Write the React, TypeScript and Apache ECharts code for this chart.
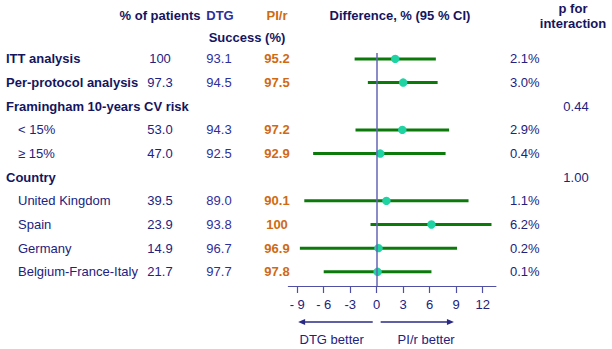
import { useEffect, useRef } from "react";
import * as echarts from "echarts";

const rowLabels = [
  "ITT analysis",
  "Per-protocol analysis",
  "Framingham 10-years CV risk",
  "< 15%",
  "≥ 15%",
  "Country",
  "United Kingdom",
  "Spain",
  "Germany",
  "Belgium-France-Italy",
];
const rowIsHeader = [true, true, true, false, false, true, false, false, false, false];
const pctPatients = ["100", "97.3", "", "53.0", "47.0", "", "39.5", "23.9", "14.9", "21.7"];
const dtgSuccess = ["93.1", "94.5", "", "94.3", "92.5", "", "89.0", "93.8", "96.7", "97.7"];
const pirSuccess = ["95.2", "97.5", "", "97.2", "92.9", "", "90.1", "100", "96.9", "97.8"];
const diffEst: (number | null)[] = [2.1, 3.0, null, 2.9, 0.4, null, 1.1, 6.2, 0.2, 0.1];
const ciLow: (number | null)[] = [-2.5, -1.0, null, -2.4, -7.2, null, -8.2, -0.7, -8.7, -6.0];
const ciHigh: (number | null)[] = [6.7, 6.9, null, 8.2, 7.8, null, 10.4, 13.0, 9.1, 6.2];
const pInteraction = ["", "", "0.44", "", "", "1.00", "", "", "", ""];
const xTicks = [-9, -6, -3, 0, 3, 6, 9, 12];
const xTickLabels = ["- 9", "- 6", "-3", "0", "3", "6", "9", "12"];

const FONT = '"Liberation Sans", Arial, sans-serif';
const NAVY = "#15155e";
const NAVY2 = "#22227e";
const BLUE = "#2e2e9c";
const ORANGE = "#d06a12";

function txt(text: string, x: number, y: number, opts: any = {}) {
  const align = opts.align || "left";
  return {
    type: "text",
    x,
    y,
    silent: true,
    style: {
      text,
      fill: opts.color || NAVY,
      fontSize: opts.size || 13,
      fontWeight: opts.bold ? "bold" : "normal",
      fontFamily: FONT,
      align,
      textAlign: align,
      verticalAlign: "middle",
      textVerticalAlign: "middle",
    },
  };
}

export default function App() {
  const ref = useRef<HTMLDivElement>(null);
  useEffect(() => {
    const chart = echarts.init(ref.current!, null, { renderer: "svg" });
    const rows = rowLabels.map((_, i) => i);
    const ciData = rows
      .filter((i) => diffEst[i] != null)
      .map((i) => [diffEst[i], i, ciLow[i], ciHigh[i]]);
    const tableData = rows.map((i) => [0, i]);

    chart.setOption({
      animation: false,
      grid: { left: 288.4, right: 116.1, top: 53, bottom: 63, containLabel: false },
      xAxis: {
        type: "value",
        min: -10,
        max: 13.5,
        axisLine: { show: true, onZero: false, lineStyle: { color: "#4f4fa6", width: 1.2 } },
        axisTick: { show: true, customValues: xTicks, length: 7, lineStyle: { color: "#4f4fa6", width: 1.2 } },
        axisLabel: {
          customValues: xTicks,
          formatter: (v: number) => xTickLabels[xTicks.indexOf(v)],
          color: NAVY2,
          fontSize: 13,
          fontFamily: FONT,
          margin: 12,
        },
        splitLine: { show: false },
      },
      yAxis: { type: "value", inverse: true, min: -0.25, max: 9.6, show: false },
      series: [
        {
          type: "custom",
          data: ciData,
          encode: { x: [0, 2, 3], y: 1 },
          renderItem: (params: any, api: any) => {
            const y = api.value(1);
            const lo = api.coord([api.value(2), y]);
            const hi = api.coord([api.value(3), y]);
            const pt = api.coord([api.value(0), y]);
            return {
              type: "group",
              children: [
                {
                  type: "line",
                  shape: { x1: lo[0], y1: lo[1], x2: hi[0], y2: hi[1] },
                  style: { stroke: "#0b7a0b", lineWidth: 3 },
                },
                {
                  type: "circle",
                  shape: { cx: pt[0], cy: pt[1], r: 4.2 },
                  style: { fill: "#1fd3a3" },
                },
              ],
            };
          },
          markLine: {
            silent: true,
            symbol: "none",
            label: { show: false },
            lineStyle: { color: "#6464b4", width: 1.5, type: "solid" },
            data: [{ xAxis: 0 }],
          },
          z: 3,
        },
        {
          type: "custom",
          data: tableData,
          encode: { x: 0, y: 1 },
          silent: true,
          renderItem: (params: any, api: any) => {
            const i = params.dataIndex;
            const y = api.coord([0, api.value(1)])[1];
            const head = rowIsHeader[i];
            const children: any[] = [
              txt(rowLabels[i], head ? 6 : 18, y, { bold: head, color: head ? NAVY : NAVY2 }),
            ];
            if (pctPatients[i]) children.push(txt(pctPatients[i], 160, y, { align: "center", color: NAVY2 }));
            if (dtgSuccess[i]) children.push(txt(dtgSuccess[i], 219, y, { align: "center", color: BLUE }));
            if (pirSuccess[i]) children.push(txt(pirSuccess[i], 277, y, { align: "center", color: ORANGE, bold: true }));
            if (diffEst[i] != null)
              children.push(txt((diffEst[i] as number).toFixed(1) + "%", 510, y, { color: NAVY2 }));
            if (pInteraction[i]) children.push(txt(pInteraction[i], 576, y, { align: "center", color: NAVY2 }));
            return { type: "group", children };
          },
        },
      ],
    });

    const px = (v: number) => chart.convertToPixel({ xAxisIndex: 0 }, v) as number;
    const ay = 322;
    const lA = px(-8.9), lB = px(-0.45), rA = px(0.45), rB = px(8.75);
    chart.setOption({
      graphic: [
        txt("% of patients", 160, 15, { bold: true, align: "center" }),
        txt("DTG", 220, 15, { bold: true, align: "center", color: BLUE }),
        txt("PI/r", 277, 15, { bold: true, align: "center", color: ORANGE }),
        txt("Success (%)", 247, 37, { bold: true, align: "center" }),
        txt("Difference, % (95 % CI)", 400, 15, { bold: true, align: "center" }),
        txt("p for", 573, 8, { bold: true, align: "center" }),
        txt("interaction", 573, 23, { bold: true, align: "center" }),
        {
          type: "line",
          silent: true,
          shape: { x1: lA + 6, y1: ay, x2: lB, y2: ay },
          style: { stroke: "#2a2a86", lineWidth: 1.3 },
        },
        {
          type: "polygon",
          silent: true,
          shape: { points: [[lA, ay], [lA + 7, ay - 3], [lA + 7, ay + 3]] },
          style: { fill: "#2a2a86" },
        },
        {
          type: "line",
          silent: true,
          shape: { x1: rA, y1: ay, x2: rB - 6, y2: ay },
          style: { stroke: "#2a2a86", lineWidth: 1.3 },
        },
        {
          type: "polygon",
          silent: true,
          shape: { points: [[rB, ay], [rB - 7, ay - 3], [rB - 7, ay + 3]] },
          style: { fill: "#2a2a86" },
        },
        txt("DTG better", px(-5.1), 339, { align: "center", color: NAVY2 }),
        txt("PI/r better", px(5.6), 339, { align: "center", color: NAVY2 }),
      ],
    });

    return () => chart.dispose();
  }, []);
  return (
    <div
      ref={ref}
      style={{ position: "absolute", left: 0, top: 0, width: 612, height: 349, background: "#fff" }}
    />
  );
}
